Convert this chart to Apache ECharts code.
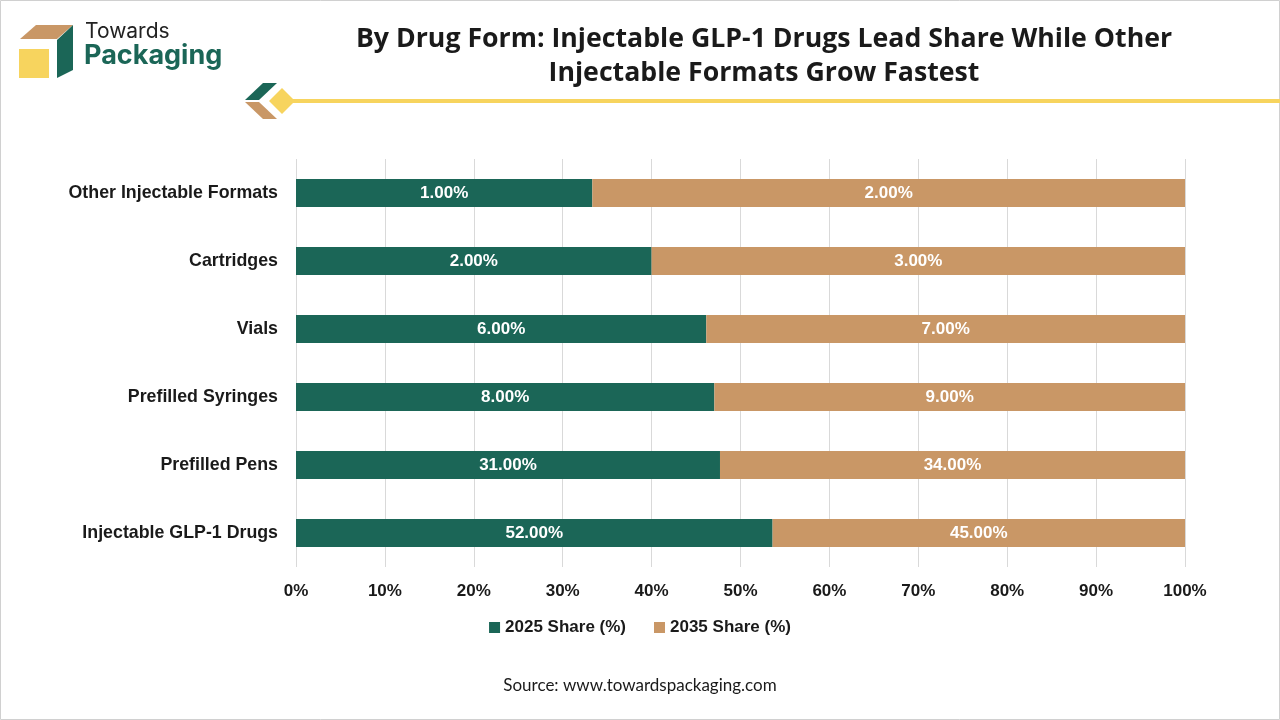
<!DOCTYPE html>
<html>
<head>
<meta charset="utf-8">
<script src="https://cdn.jsdelivr.net/npm/echarts@6/dist/echarts.min.js"></script>
<style>
  html, body { margin: 0; padding: 0; background: #fff; }
  #main { width: 1280px; height: 720px; }
</style>
</head>
<body>
<div id="main"></div>
<script>
// data
var categories = ['Injectable GLP-1 Drugs', 'Prefilled Pens', 'Prefilled Syringes', 'Vials', 'Cartridges', 'Other Injectable Formats'];
var share2025 = [52, 31, 8, 6, 2, 1];
var share2035 = [45, 34, 9, 7, 3, 2];
var xTicks = ['0%', '10%', '20%', '30%', '40%', '50%', '60%', '70%', '80%', '90%', '100%'];

var GREEN = '#1b6657';
var TAN = '#c99766';
var YELLOW = '#f7d45e';
var FONT = 'Liberation Sans, Arial, sans-serif';

// 100% stacked: each row is split by its own total
function pct(arr, i) {
  var tot = share2025[i] + share2035[i];
  return arr[i] / tot * 100;
}
var data2025 = share2025.map(function (v, i) { return { value: pct(share2025, i), raw: v }; });
var data2035 = share2035.map(function (v, i) { return { value: pct(share2035, i), raw: v }; });

var chart = echarts.init(document.getElementById('main'));

var labelOpt = {
  show: true,
  position: 'inside',
  color: '#fff',
  fontFamily: FONT,
  fontWeight: 'bold',
  fontSize: 17,
  formatter: function (p) { return p.data.raw.toFixed(2) + '%'; }
};

var option = {
  backgroundColor: '#fff',
  animation: false,
  title: {
    text: 'By Drug Form: Injectable GLP-1 Drugs Lead Share While Other\nInjectable Formats Grow Fastest',
    left: 759,
    top: 17,
    textAlign: 'center',
    textStyle: {
      fontFamily: 'Open Sans, sans-serif',
      fontWeight: 'bold',
      fontSize: 26.7,
      lineHeight: 34,
      color: '#1a1a1a'
    }
  },
  grid: { left: 296, right: 95, top: 159, height: 408, containLabel: false },
  xAxis: {
    type: 'value',
    min: 0,
    max: 100,
    interval: 10,
    axisLine: { show: false },
    axisTick: { show: false },
    splitLine: { show: true, lineStyle: { color: '#d9d9d9', width: 1 } },
    axisLabel: {
      margin: 16,
      fontFamily: FONT,
      fontWeight: 'bold',
      fontSize: 17,
      color: '#1a1a1a',
      formatter: function (v) { return xTicks[Math.round(v / 10)]; }
    }
  },
  yAxis: {
    type: 'category',
    data: categories,
    axisLine: { show: false },
    axisTick: { show: false },
    axisLabel: {
      margin: 18,
      fontFamily: FONT,
      fontWeight: 'bold',
      fontSize: 17.8,
      color: '#1a1a1a'
    }
  },
  legend: {
    data: ['2025 Share (%)', '2035 Share (%)'],
    left: 'center',
    top: 614,
    icon: 'rect',
    itemWidth: 11,
    itemHeight: 11,
    itemGap: 28,
    textStyle: {
      fontFamily: FONT,
      fontWeight: 'bold',
      fontSize: 17,
      color: '#1a1a1a'
    }
  },
  series: [
    {
      name: '2025 Share (%)',
      type: 'bar',
      stack: 'total',
      barWidth: 28,
      itemStyle: { color: GREEN },
      label: labelOpt,
      data: data2025
    },
    {
      name: '2035 Share (%)',
      type: 'bar',
      stack: 'total',
      barWidth: 28,
      itemStyle: { color: TAN },
      label: labelOpt,
      data: data2035
    }
  ],
  graphic: [
    // outer border
    { type: 'rect', shape: { x: 0.5, y: 0.5, width: 1279, height: 719 }, style: { fill: 'none', stroke: '#d0d0d0', lineWidth: 1 } },
    // logo box
    { type: 'polygon', shape: { points: [[20, 39], [36, 25], [73, 25], [57, 39]] }, style: { fill: TAN } },
    { type: 'polygon', shape: { points: [[57, 40], [73, 25], [73, 70], [57, 78]] }, style: { fill: GREEN } },
    { type: 'rect', shape: { x: 19, y: 49, width: 30, height: 29 }, style: { fill: YELLOW } },
    { type: 'text', left: 85, top: 21, style: { text: 'Towards', fontFamily: 'Inter, sans-serif', fontSize: 21, fill: '#222' } },
    { type: 'text', left: 84, top: 42, style: { text: 'Packaging', fontFamily: 'Inter, sans-serif', fontWeight: 'bold', fontSize: 27, fill: GREEN } },
    // divider ornament
    { type: 'rect', shape: { x: 288, y: 99, width: 992, height: 4 }, style: { fill: YELLOW } },
    { type: 'polygon', shape: { points: [[245, 100], [263, 83], [277, 83], [259, 100]] }, style: { fill: GREEN } },
    { type: 'polygon', shape: { points: [[245, 102], [259, 102], [277, 119], [263, 119]] }, style: { fill: TAN } },
    { type: 'polygon', shape: { points: [[282, 88], [295, 101], [282, 114], [269, 101]] }, style: { fill: YELLOW } },
    // source
    { type: 'text', left: 'center', top: 677, style: { text: 'Source: www.towardspackaging.com', fontFamily: 'Lato, Open Sans, sans-serif', fontSize: 17, fill: '#1a1a1a' } }
  ]
};

chart.setOption(option);
</script>
</body>
</html>
